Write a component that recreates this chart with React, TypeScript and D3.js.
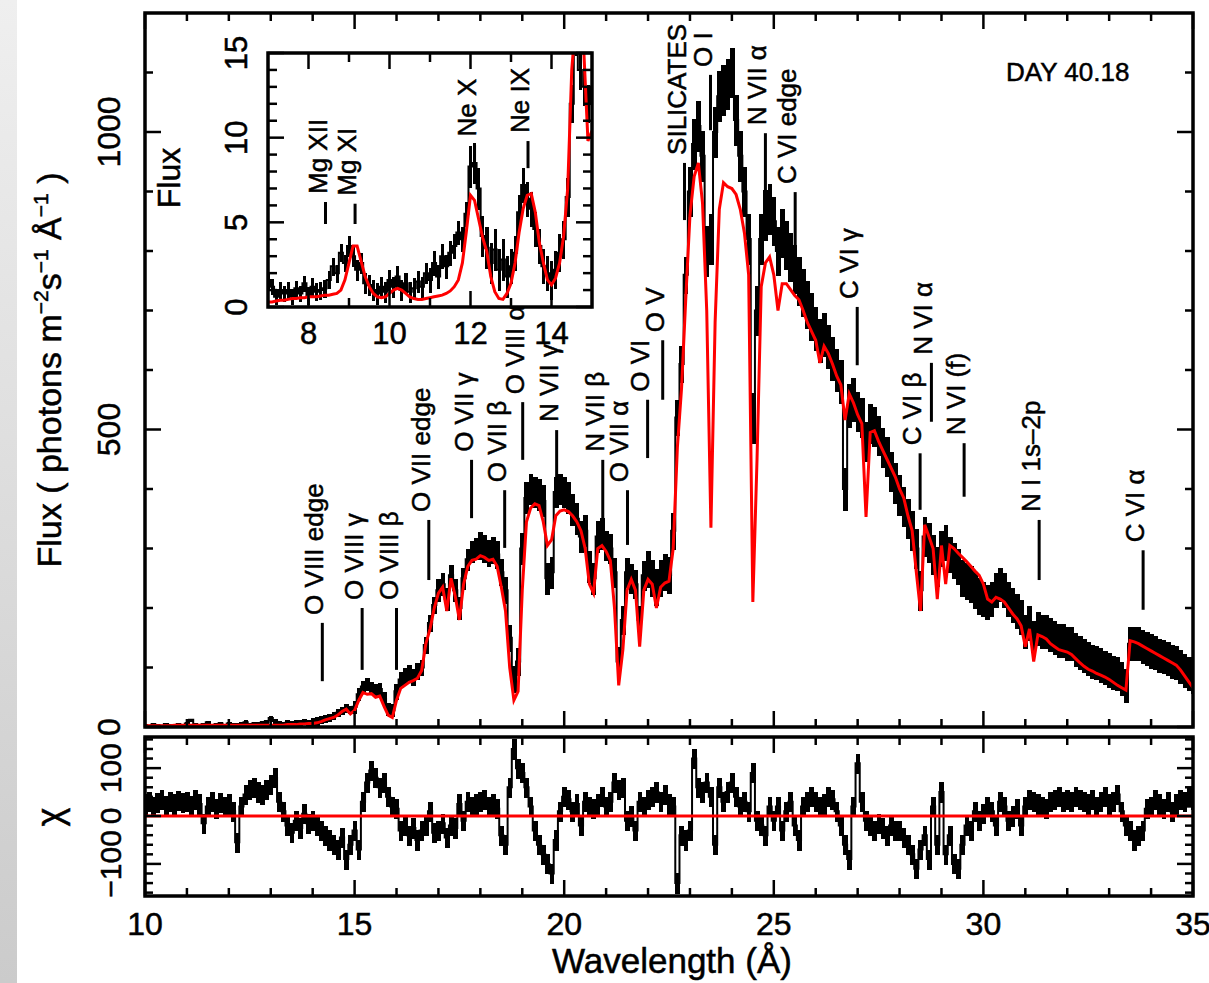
import React from "react";
import * as d3 from "d3";

// main spectrum, binned every 0.1 Å from 10 Å
const waveStart = 10;
const waveStep = 0.1;

// best-fit model (red), photons m^-2 s^-1 Å^-1
const modelFlux = [
  2, 2, 2, 2, 2, 2, 2, 3, 3, 3,
  3, 3, 3, 3, 3, 3, 3, 3, 3, 3,
  3, 3, 3, 3, 3, 3, 3, 3, 3, 3,
  3, 3, 3, 3, 4, 4, 4, 5, 5, 6,
  6, 7, 9, 12, 14, 16, 20, 26, 30, 22,
  28, 45, 58, 55, 56, 50, 52, 35, 20, 16,
  45, 65, 70, 75, 78, 82, 95, 140, 165, 200,
  225, 235, 195, 250, 220, 180, 240, 270, 280, 282,
  288, 285, 280, 282, 270, 235, 195, 100, 45, 60,
  230, 345, 368, 375, 372, 345, 305, 315, 355, 363,
  365, 362, 355, 345, 330, 300, 240, 225, 300, 305,
  295, 280, 200, 70, 130, 230, 248, 230, 135, 230,
  248, 240, 200, 235, 242, 245, 300, 470, 570, 720,
  860, 925, 948, 880, 700, 335, 680, 870, 915, 908,
  905, 895, 870, 830, 760, 210, 450, 740, 780, 790,
  760, 700, 745, 745, 735, 725, 718, 700, 680, 665,
  650, 612, 640, 628, 610, 590, 575, 516, 560, 545,
  525, 510, 353, 495, 498, 480, 465, 450, 435, 420,
  400, 385, 355, 330, 260, 195, 340, 320, 300, 215,
  305, 240, 305, 300, 292, 285, 278, 270, 262, 255,
  240, 215, 210, 218, 215, 210, 200, 190, 182, 170,
  135, 165, 110, 155, 152, 148, 140, 135, 130, 128,
  126, 122, 115, 108, 102, 97, 94, 90, 87, 84,
  80, 75, 70, 66, 62, 145, 143, 140, 136, 132,
  128, 124, 120, 116, 112, 108, 104, 96, 86, 76,
  66,
];

// observed spectrum (black)
const dataFlux = [
  3, 2, 4, 3, 2, 5, 3, 2, 4, 3,
  6, 12, 4, 3, 5, 8, 3, 4, 6, 3,
  6, 4, 3, 5, 8, 4, 6, 5, 7, 9,
  15, 10, 6, 5, 7, 6, 8, 7, 9, 8,
  9, 10, 12, 14, 16, 20, 24, 28, 32, 30,
  34, 55, 68, 72, 66, 62, 64, 48, 30, 28,
  60, 80, 86, 92, 84, 94, 100, 138, 175, 205,
  230, 240, 215, 255, 230, 200, 250, 282, 295, 300,
  305, 300, 292, 298, 290, 260, 230, 150, 80, 110,
  300, 385, 400, 395, 390, 380, 250, 260, 395, 400,
  395, 385, 365, 350, 320, 330, 270, 250, 320, 325,
  305, 300, 260, 110, 180, 260, 250, 240, 180, 255,
  265, 250, 235, 250, 260, 255, 330, 520, 610, 760,
  900, 980, 1010, 960, 800, 820, 1000, 1060, 1070, 1080,
  1100, 1020, 960, 900, 820, 520, 700, 820, 860, 870,
  850, 800, 830, 810, 790, 770, 750, 730, 710, 690,
  670, 650, 660, 640, 620, 600, 580, 400, 540, 550,
  530, 520, 480, 510, 505, 490, 470, 455, 430, 410,
  390, 370, 350, 330, 300, 230, 320, 310, 290, 270,
  300, 310, 290, 280, 270, 250, 245, 240, 230, 220,
  215, 210, 215, 230, 240, 230, 215, 205, 195, 185,
  160, 175, 150, 165, 160, 160, 155, 150, 145, 145,
  140, 140, 130, 125, 120, 115, 110, 108, 104, 100,
  96, 92, 90, 82, 70, 140, 140, 140, 135, 132,
  128, 125, 120, 118, 115, 110, 108, 102, 95, 90,
  85,
];

// error half-height, one value per 1 Å (10..35)
const dataErr = [2, 2, 3, 4, 6, 10, 13, 18, 22, 26, 26, 24, 30, 42, 42, 40, 36, 33, 33, 30, 28, 28, 28, 28, 28, 28];

// residuals (chi)
const chiValues = [
  25, 30, 20, 28, 35, 22, 30, 25, 32, 28,
  30, 22, 35, 25, -15, 20, 30, 15, 28, 20,
  25, 10, -55, 20, 45, 55, 60, 50, 45, 55,
  65, 80, 30, 10, -20, -35, -10, -25, 5, -15,
  -10, -20, -30, -40, -50, -60, -70, -45, -90, -60,
  -30, -70, 30, 70, 95, 80, 60, 70, 40, 20,
  15, -30, -20, -40, -25, -50, -30, -20, 10, -35,
  -30, -15, -45, -20, -25, 25, -10, 30, 20, 25,
  30, 35, 20, 25, 15, -40, -60, 60, 140, 100,
  90, 60, 20, -30, -60, -80, -100, -120, -50, 10,
  40, 35, 10, 25, -20, 30, 20, 15, 25, 40,
  20, 30, 70, 55, 60, -10, 0, -30, 30, 20,
  35, 40, 50, 30, 45, 25, 20, -140, -40, -50,
  -30, 120, 60, 50, 70, 40, -60, 60, 30, 50,
  70, 40, 20, 30, 10, 90, -10, -20, -40, 20,
  -10, 20, -30, 10, 30, -20, -50, 20, 30, 40,
  30, 20, 25, 40, 35, 10, -20, -60, -90, 20,
  110, 30, -10, -20, -30, -15, -25, -40, -20, -30,
  -30, -45, -60, -80, -110, -70, -40, -90, 20, -60,
  50, -80, -40, -100, -110, -60, -20, -30, 10, -10,
  5, 20, 10, -20, 30, 20, -10, 0, 15, -20,
  20, 35, 30, 25, 20, 15, 30, 35, 40, 30,
  35, 30, 40, 35, 30, 25, 35, 20, 30, 40,
  25, 30, 45, 10, -20, -30, -50, -40, -30, 15,
  20, 35, 25, 15, 30, 10, 25, 35, 30, 40,
  35,
];
const chiErr = 20;

// inset, 7..15 Å every 0.1 Å
const insetStart = 7;
const insetModel = [
  0.3, 0.3, 0.35, 0.4, 0.4, 0.45, 0.5, 0.5, 0.55, 0.55,
  0.6, 0.6, 0.6, 0.65, 0.7, 0.7, 0.75, 0.8, 1.0, 1.6,
  2.6, 3.6, 3.6, 2.7, 1.8, 1.2, 0.8, 0.6, 0.55, 0.6,
  0.8, 1.0, 1.1, 1.0, 0.8, 0.6, 0.5, 0.45, 0.45, 0.5,
  0.55, 0.6, 0.65, 0.7, 0.8, 0.95, 1.2, 1.6, 2.6, 4.5,
  6.6, 6.3, 5.2, 4.1, 3.3, 1.8, 0.9, 0.5, 0.45, 0.8,
  1.4, 2.6, 4.4, 5.8, 6.6, 6.7, 5.6, 3.8, 2.6, 1.6,
  1.3, 1.7, 2.6, 4.2, 7.0, 14, 17, 17, 15, 9.8,
  10.4,
];
const insetData = [
  1.6, 1.2, 0.6, 1.0, 0.8, 1.0, 0.6, 1.1, 0.8, 1.4,
  0.7, 1.2, 0.9, 1.0, 1.1, 1.6, 2.4, 2.0, 3.2, 2.6,
  3.6, 3.0, 2.2, 2.6, 1.4, 1.3, 1.0, 0.8, 1.2, 0.9,
  1.6, 1.2, 1.8, 1.0, 1.4, 0.9, 1.1, 1.5, 1.2, 2.0,
  1.6, 2.6, 1.8, 3.0, 2.4, 3.2, 3.6, 4.4, 4.0, 5.5,
  8.3, 8.5, 7.0, 4.2, 3.5, 2.6, 3.4, 2.2, 2.8, 1.8,
  2.4, 3.2, 5.6, 7.2, 6.4, 5.8, 4.6, 3.6, 2.4, 2.0,
  1.6, 2.2, 3.2, 4.0, 6.5, 12, 16, 14, 13, 12,
  13,
];
const insetErr = [0.45, 0.5, 0.6, 0.6, 0.7, 1.2, 1.0, 1.1, 1.4];

// line identifications: wavelength, marker from lo to hi (flux units)
const mainLines = [
  { label: "O VIII edge", wave: 14.23, lo: 77, hi: 175 },
  { label: "O VIII γ", wave: 15.18, lo: 96, hi: 200 },
  { label: "O VIII β", wave: 16.0, lo: 96, hi: 200 },
  { label: "O VII edge", wave: 16.77, lo: 247, hi: 348 },
  { label: "O VII γ", wave: 17.79, lo: 351, hi: 449 },
  { label: "O VII β", wave: 18.58, lo: 301, hi: 398 },
  { label: "O VIII α", wave: 19.01, lo: 449, hi: 546 },
  { label: "N VII γ", wave: 19.82, lo: 376, hi: 499 },
  { label: "N VII β", wave: 20.92, lo: 351, hi: 449 },
  { label: "O VII α", wave: 21.51, lo: 306, hi: 398 },
  { label: "O VI", wave: 21.99, lo: 452, hi: 550 },
  { label: "O V", wave: 22.35, lo: 550, hi: 650 },
  { label: "SILICATES", wave: 22.87, lo: 852, hi: 948 },
  { label: "O I", wave: 23.49, lo: 1003, hi: 1096 },
  { label: "N VII α", wave: 24.8, lo: 899, hi: 998 },
  { label: "C VI edge", wave: 25.51, lo: 802, hi: 899 },
  { label: "C VI γ", wave: 26.99, lo: 608, hi: 706 },
  { label: "C VI β", wave: 28.49, lo: 365, hi: 460 },
  { label: "N VI α", wave: 28.76, lo: 513, hi: 612 },
  { label: "N VI (f)", wave: 29.54, lo: 387, hi: 477 },
  { label: "N I 1s–2p", wave: 31.33, lo: 247, hi: 348 },
  { label: "C VI α", wave: 33.81, lo: 197, hi: 297 },
];

const insetLines = [
  { label: "Mg XII", wave: 8.42, lo: 4.9, hi: 6.2 },
  { label: "Mg XI", wave: 9.15, lo: 4.9, hi: 6.1 },
  { label: "Ne X", wave: 12.1, lo: 8.6, hi: 9.6 },
  { label: "Ne IX", wave: 13.42, lo: 8.2, hi: 9.8 },
];

const xMajor = [10, 15, 20, 25, 30, 35];
const xMinor = d3.range(11, 35).filter((v) => v % 5 !== 0);
const yMajor = [0, 500, 1000];
const yMinor = d3.range(100, 1200, 100).filter((v) => v % 500 !== 0);
const chiMajor = [-100, 0, 100];
const chiMinor = d3.range(-160, 161, 20).filter((v) => v % 100 !== 0);
const insetXMajor = [8, 10, 12, 14];
const insetXMinor = [9, 11, 13];
const insetYMajor = [0, 5, 10, 15];
const insetYMinor = d3.range(1, 15).filter((v) => v % 5 !== 0);

const FONT = "'Liberation Sans', Arial, Helvetica, sans-serif";
const textStyle = { stroke: "#000", strokeWidth: 0.5 };

const xMain = d3.scaleLinear().domain([10, 35]).range([145, 1193]);
const yMain = d3.scaleLinear().domain([0, 1200]).range([727, 13]);
const yChi = d3.scaleLinear().domain([-167, 165]).range([896, 737]);
const xIn = d3.scaleLinear().domain([7, 15]).range([268, 592]);
const yIn = d3.scaleLinear().domain([0, 15]).range([307, 53]);

function Frame({ x0, x1, y0, y1, xs, ys, xMaj, xMin, yMaj, yMin, major, minor }: any) {
  const lines: any[] = [];
  xMaj.forEach((v: number) => {
    lines.push([xs(v), y1, xs(v), y1 - major]);
    lines.push([xs(v), y0, xs(v), y0 + major]);
  });
  xMin.forEach((v: number) => {
    lines.push([xs(v), y1, xs(v), y1 - minor]);
    lines.push([xs(v), y0, xs(v), y0 + minor]);
  });
  yMaj.forEach((v: number) => {
    lines.push([x0, ys(v), x0 + major, ys(v)]);
    lines.push([x1, ys(v), x1 - major, ys(v)]);
  });
  yMin.forEach((v: number) => {
    lines.push([x0, ys(v), x0 + minor, ys(v)]);
    lines.push([x1, ys(v), x1 - minor, ys(v)]);
  });
  return (
    <g stroke="#000">
      {lines.map((l, i) => (
        <line key={i} x1={l[0]} y1={l[1]} x2={l[2]} y2={l[3]} strokeWidth={2.5} />
      ))}
      <rect x={x0} y={y0} width={x1 - x0} height={y1 - y0} fill="none" strokeWidth={3.5} />
    </g>
  );
}

function VText({ x, y, children, size = 26, anchor = "start" }: any) {
  return (
    <text
      transform={`translate(${x},${y}) rotate(-90)`}
      fontSize={size}
      fontFamily={FONT}
      textAnchor={anchor}
      fill="#000"
      style={textStyle}
    >
      {children}
    </text>
  );
}

// error-bar bins plus the step line that joins them
function Bins({ values, start, errAt, xs, ys, floor, gap = 0 }: any) {
  const step = d3
    .line<number>()
    .x((_, i) => xs(start + i * waveStep))
    .y((d) => ys(d))
    .curve(d3.curveStep);
  return (
    <g>
      <g shapeRendering="crispEdges">
        {values.map((f: number, i: number) => {
          const w = start + i * waveStep;
          const e = errAt(i);
          const top = ys(f + e);
          const bottom = ys(floor === undefined ? f - e : Math.max(f - e, floor));
          return (
            <rect
              key={i}
              x={xs(w - waveStep / 2) + gap}
              y={top}
              width={xs(w + waveStep / 2) - xs(w - waveStep / 2) - 2 * gap + 0.6}
              height={bottom - top + 1}
              fill="#000"
            />
          );
        })}
      </g>
      <path d={step(values) || ""} fill="none" stroke="#000" strokeWidth={2} />
    </g>
  );
}

export default function App() {
  const modelLine = d3
    .line<number>()
    .x((_, i) => xMain(waveStart + i * waveStep))
    .y((d) => yMain(d));
  const insetLine = d3
    .line<number>()
    .x((_, i) => xIn(insetStart + i * waveStep))
    .y((d) => yIn(d));

  return (
    <svg
      width={1209}
      height={983}
      style={{ position: "absolute", left: 0, top: 0, background: "#fff" }}
    >
      <defs>
        <clipPath id="mainClip">
          <rect x={145} y={13} width={1048} height={714} />
        </clipPath>
        <clipPath id="chiClip">
          <rect x={145} y={737} width={1048} height={159} />
        </clipPath>
        <clipPath id="insetClip">
          <rect x={268} y={53} width={324} height={254} />
        </clipPath>
        <linearGradient id="edge" x1="0" y1="0" x2="0" y2="1">
          <stop offset="0" stopColor="#efefef" />
          <stop offset="1" stopColor="#cbcbcb" />
        </linearGradient>
      </defs>
      <rect x={0} y={0} width={1209} height={983} fill="#fff" />
      <rect x={0} y={0} width={17} height={983} fill="url(#edge)" />

      {/* main spectrum */}
      <g clipPath="url(#mainClip)">
        <Bins
          values={dataFlux}
          start={waveStart}
          errAt={(i: number) => dataErr[Math.min(Math.floor(i / 10), dataErr.length - 1)]}
          xs={xMain}
          ys={yMain}
          floor={0}
        />
        <path d={modelLine(modelFlux) || ""} fill="none" stroke="#ff0000" strokeWidth={3} />
      </g>

      {mainLines.map((l) => (
        <g key={l.label + l.wave}>
          <line
            x1={xMain(l.wave)}
            x2={xMain(l.wave)}
            y1={yMain(l.lo)}
            y2={yMain(l.hi)}
            stroke="#000"
            strokeWidth={3}
          />
          <VText x={xMain(l.wave) + 1} y={yMain(l.hi) - 8}>
            {l.label}
          </VText>
        </g>
      ))}

      <text x={1006} y={81} fontSize={26} fontFamily={FONT} style={textStyle}>
        DAY 40.18
      </text>

      <Frame
        x0={145}
        x1={1193}
        y0={13}
        y1={727}
        xs={xMain}
        ys={yMain}
        xMaj={xMajor}
        xMin={xMinor}
        yMaj={yMajor}
        yMin={yMinor}
        major={16}
        minor={8}
      />
      {yMajor.map((v) => (
        <VText key={v} x={120} y={yMain(v)} size={32} anchor="middle">
          {v}
        </VText>
      ))}

      {/* inset */}
      <rect x={268} y={53} width={324} height={254} fill="#fff" />
      <g clipPath="url(#insetClip)">
        <Bins
          values={insetData}
          start={insetStart}
          errAt={(i: number) => insetErr[Math.min(Math.floor(i / 10), insetErr.length - 1)]}
          xs={xIn}
          ys={yIn}
          floor={0}
          gap={0.8}
        />
        <path d={insetLine(insetModel) || ""} fill="none" stroke="#ff0000" strokeWidth={3} />
      </g>
      {insetLines.map((l) => (
        <g key={l.label}>
          <line
            x1={xIn(l.wave)}
            x2={xIn(l.wave)}
            y1={yIn(l.lo)}
            y2={yIn(l.hi)}
            stroke="#000"
            strokeWidth={3}
          />
          <VText x={xIn(l.wave) + 1} y={yIn(l.hi) - 8}>
            {l.label}
          </VText>
        </g>
      ))}
      <Frame
        x0={268}
        x1={592}
        y0={53}
        y1={307}
        xs={xIn}
        ys={yIn}
        xMaj={insetXMajor}
        xMin={insetXMinor}
        yMaj={insetYMajor}
        yMin={insetYMinor}
        major={16}
        minor={9}
      />
      {insetXMajor.map((v) => (
        <text
          key={v}
          x={xIn(v)}
          y={344}
          fontSize={31}
          fontFamily={FONT}
          textAnchor="middle"
          style={textStyle}
        >
          {v}
        </text>
      ))}
      {insetYMajor.map((v) => (
        <VText key={v} x={247} y={yIn(v)} size={31} anchor="middle">
          {v}
        </VText>
      ))}
      <VText x={180} y={178} size={32} anchor="middle">
        Flux
      </VText>

      {/* residuals */}
      <g clipPath="url(#chiClip)">
        <Bins
          values={chiValues}
          start={waveStart}
          errAt={() => chiErr}
          xs={xMain}
          ys={yChi}
        />
        <line x1={145} x2={1193} y1={yChi(0)} y2={yChi(0)} stroke="#ff0000" strokeWidth={3} />
      </g>
      <Frame
        x0={145}
        x1={1193}
        y0={737}
        y1={896}
        xs={xMain}
        ys={yChi}
        xMaj={xMajor}
        xMin={xMinor}
        yMaj={chiMajor}
        yMin={chiMinor}
        major={16}
        minor={8}
      />
      {chiMajor.map((v) => (
        <VText key={v} x={121} y={yChi(v)} size={30} anchor="middle">
          {v < 0 ? `−${-v}` : v}
        </VText>
      ))}
      {xMajor.map((v) => (
        <text
          key={v}
          x={xMain(v)}
          y={935}
          fontSize={32}
          fontFamily={FONT}
          textAnchor="middle"
          style={textStyle}
        >
          {v}
        </text>
      ))}

      {/* axis titles */}
      <text x={672} y={973} fontSize={35} fontFamily={FONT} textAnchor="middle" style={textStyle}>
        Wavelength (Å)
      </text>
      <VText x={62} y={817} size={36} anchor="middle">
        χ
      </VText>
      <text
        transform="translate(61,370) rotate(-90)"
        fontSize={34}
        fontFamily={FONT}
        textAnchor="middle"
        style={textStyle}
      >
        Flux ( photons m
        <tspan fontSize={21} dy={-13}>
          −2
        </tspan>
        <tspan dy={13}>s</tspan>
        <tspan fontSize={21} dy={-13}>
          −1
        </tspan>
        <tspan dy={13}> Å</tspan>
        <tspan fontSize={21} dy={-13}>
          −1
        </tspan>
        <tspan dy={13}> )</tspan>
      </text>
    </svg>
  );
}
